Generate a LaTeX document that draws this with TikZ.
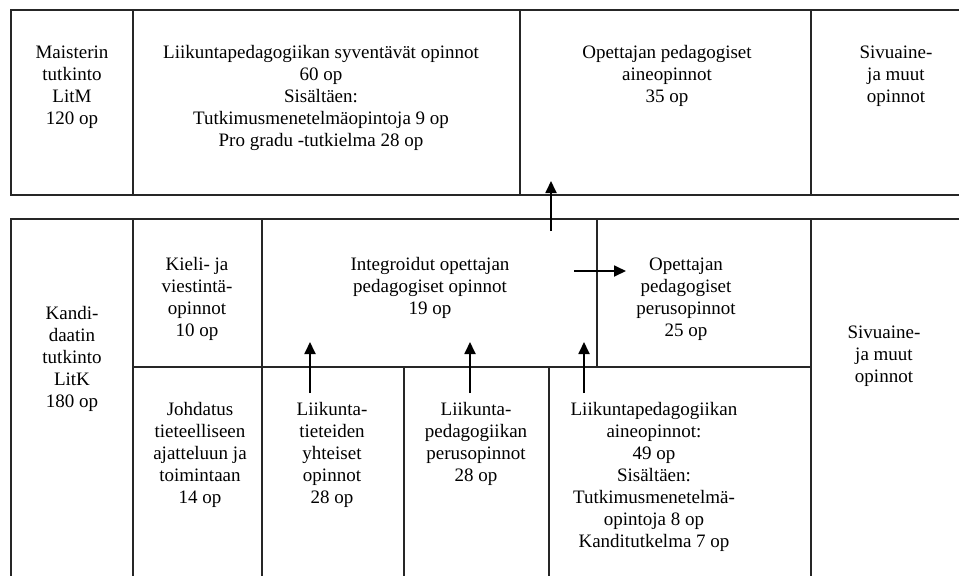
\documentclass[tikz,border=0pt]{standalone}
\usepackage{fontspec}
\setmainfont{Liberation Serif}
\usetikzlibrary{arrows.meta}

\tikzset{
  cell/.style={align=center, inner sep=0pt, font=\fontsize{19}{22}\selectfont},
  boxline/.style={line width=2pt, draw=black!85},
  flow/.style={line width=1.8pt, -{Triangle[length=12pt,width=11pt]}},
}

\begin{document}
\begin{tikzpicture}[x=1pt, y=-1pt]
  \useasboundingbox (0,0) rectangle (959,576);

  % maisterin tutkinto
  \draw[boxline] (959,9.5) -- (11,9.5) -- (11,194.5) -- (959,194.5);
  \draw[boxline] (133,9.5) -- (133,194.5)
                 (520,9.5) -- (520,194.5)
                 (811,9.5) -- (811,194.5);

  % kandidaatin tutkinto
  \draw[boxline] (959,219) -- (11,219) -- (11,576);
  \draw[boxline] (133,219) -- (133,576)
                 (262,219) -- (262,576)
                 (597,219) -- (597,367)
                 (811,219) -- (811,576)
                 (133,367) -- (811,367)
                 (404,367) -- (404,576)
                 (549,367) -- (549,576);

  \node[cell] (maist)   at (72,87)   {Maisterin\\tutkinto\\LitM\\120 op};
  \node[cell] (syvent)  at (321,98)  {Liikuntapedagogiikan syventävät opinnot\\60 op\\Sisältäen:\\Tutkimusmenetelmäopintoja 9 op\\Pro gradu -tutkielma 28 op};
  \node[cell] (aineped) at (667,76)  {Opettajan pedagogiset\\aineopinnot\\35 op};
  \node[cell] (sivuM)   at (896,76)  {Sivuaine-\\ja muut\\opinnot};

  \node[cell] (kandi)    at (72,359)  {Kandi-\\daatin\\tutkinto\\LitK\\180 op};
  \node[cell] (kieli)    at (197,299) {Kieli- ja\\viestintä-\\opinnot\\10 op};
  \node[cell] (integr)   at (430,288) {Integroidut opettajan\\pedagogiset opinnot\\19 op};
  \node[cell] (perusped) at (686,299) {Opettajan\\pedagogiset\\perusopinnot\\25 op};
  \node[cell] (sivuK)    at (884,356) {Sivuaine-\\ja muut\\opinnot};
  \node[cell] (johd)     at (200,455) {Johdatus\\tieteelliseen\\ajatteluun ja\\toimintaan\\14 op};
  \node[cell] (yhteis)   at (332,455) {Liikunta-\\tieteiden\\yhteiset\\opinnot\\28 op};
  \node[cell] (perusop)  at (476,444) {Liikunta-\\pedagogiikan\\perusopinnot\\28 op};
  \node[cell] (aineop)   at (654,477) {Liikuntapedagogiikan\\aineopinnot:\\49 op\\Sisältäen:\\Tutkimusmenetelmä-\\opintoja 8 op\\Kanditutkelma 7 op};

  % nuolet
  \coordinate (ylos1) at (551,231);  \coordinate (ylos1k) at (551,181);
  \coordinate (oik1)  at (574,271);  \coordinate (oik1k)  at (626,271);
  \coordinate (ylos2) at (310,393);  \coordinate (ylos2k) at (310,342);
  \coordinate (ylos3) at (470,393);  \coordinate (ylos3k) at (470,342);
  \coordinate (ylos4) at (584,393);  \coordinate (ylos4k) at (584,342);

  \draw[flow] (ylos1) -- (ylos1k);
  \draw[flow] (oik1) -- (oik1k);
  \draw[flow] (ylos2) -- (ylos2k);
  \draw[flow] (ylos3) -- (ylos3k);
  \draw[flow] (ylos4) -- (ylos4k);
\end{tikzpicture}
\end{document}
